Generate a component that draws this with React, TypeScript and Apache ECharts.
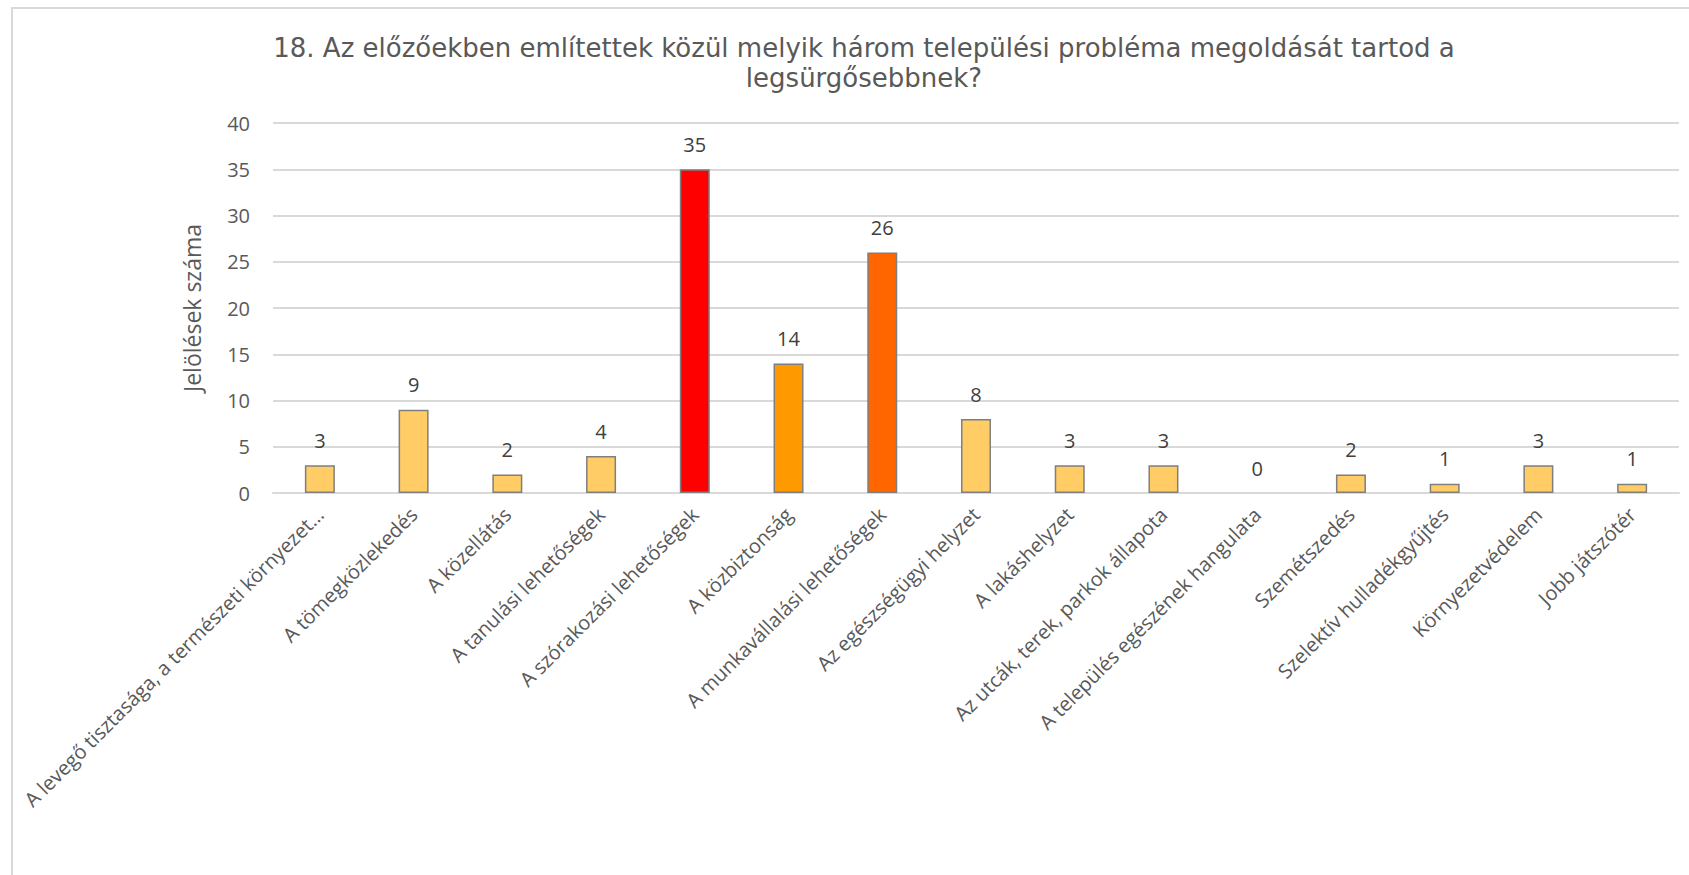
import React, { useEffect, useRef } from "react";
import * as echarts from "echarts";

const titleText =
  "18. Az előzőekben említettek közül melyik három települési probléma megoldását tartod a\nlegsürgősebbnek?";
const yAxisName = "Jelölések száma";
const categories = [
  "A levegő tisztasága, a természeti környezet…",
  "A tömegközlekedés",
  "A közellátás",
  "A tanulási lehetőségek",
  "A szórakozási lehetőségek",
  "A közbiztonság",
  "A munkavállalási lehetőségek",
  "Az egészségügyi helyzet",
  "A lakáshelyzet",
  "Az utcák, terek, parkok állapota",
  "A település egészének hangulata",
  "Szemétszedés",
  "Szelektív hulladékgyűjtés",
  "Környezetvédelem",
  "Jobb játszótér",
];
const values = [3, 9, 2, 4, 35, 14, 26, 8, 3, 3, 0, 2, 1, 3, 1];
const barColors = [
  "#FFCC66", "#FFCC66", "#FFCC66", "#FFCC66", "#FF0000", "#FF9900", "#FF6600",
  "#FFCC66", "#FFCC66", "#FFCC66", "#FFCC66", "#FFCC66", "#FFCC66", "#FFCC66", "#FFCC66",
];
const yTicks = { min: 0, max: 40, interval: 5 };

export default function App() {
  const ref = useRef<HTMLDivElement>(null);
  useEffect(() => {
    if (!ref.current) return;
    const chart = echarts.init(ref.current, undefined, { renderer: "svg" });
    chart.setOption({
      animation: false,
      backgroundColor: "#ffffff",
      graphic: [
        {
          type: "rect",
          z: -1,
          shape: { x: 12, y: 8, width: 1720, height: 900 },
          style: { fill: "none", stroke: "#D9D9D9", lineWidth: 2 },
        },
      ],
      title: {
        text: titleText,
        left: 859,
        textAlign: "center",
        top: 28,
        textStyle: {
          fontFamily: "DejaVu Sans",
          fontSize: 26,
          fontWeight: "normal",
          color: "#595959",
          lineHeight: 30,
        },
      },
      grid: { left: 273, right: 10, top: 123, bottom: 382, containLabel: false },
      xAxis: {
        type: "category",
        data: categories,
        axisLine: { lineStyle: { color: "#D9D9D9", width: 2 } },
        axisTick: { show: false },
        axisLabel: {
          interval: 0,
          rotate: 45,
          margin: 18,
          fontFamily: "Open Sans",
          fontSize: 20,
          color: "#595959",
        },
      },
      yAxis: {
        type: "value",
        min: yTicks.min,
        max: yTicks.max,
        interval: yTicks.interval,
        name: yAxisName,
        nameLocation: "middle",
        nameGap: 70,
        nameTextStyle: { fontFamily: "Open Sans", fontSize: 23, color: "#595959" },
        axisLine: { show: false },
        axisTick: { show: false },
        splitLine: { lineStyle: { color: "#D9D9D9", width: 2 } },
        axisLabel: {
          margin: 23,
          fontFamily: "Open Sans",
          fontSize: 20,
          color: "#595959",
        },
      },
      series: [
        {
          type: "bar",
          data: values.map((v, i) => ({
            value: v,
            itemStyle: { color: barColors[i], borderWidth: v === 0 ? 0 : 1.5 },
          })),
          barWidth: 30,
          itemStyle: { borderColor: "#7F7F7F", borderWidth: 1.5 },
          label: {
            show: true,
            position: "top",
            distance: 15,
            fontFamily: "Open Sans",
            fontSize: 20,
            color: "#404040",
          },
        },
      ],
    });
    return () => chart.dispose();
  }, []);
  return (
    <div
      ref={ref}
      style={{ position: "fixed", left: 0, top: 0, width: 1689, height: 875 }}
    />
  );
}
